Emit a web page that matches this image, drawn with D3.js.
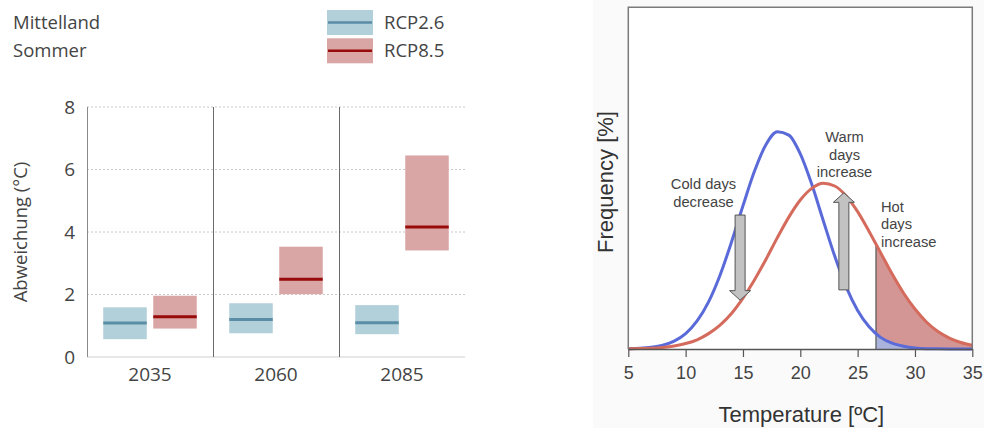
<!DOCTYPE html>
<html>
<head>
<meta charset="utf-8">
<script src="https://cdn.jsdelivr.net/npm/d3@7"></script>
<style>
  body { margin: 0; background: #fff; }
  svg { display: block; }
</style>
</head>
<body>
<script>
// left panel: projected summer warming, Mittelland
const periods = ["2035", "2060", "2085"];
const scenarios = ["RCP2.6", "RCP8.5"];
const rcp26Low = [0.57, 0.76, 0.73];
const rcp26Med = [1.09, 1.20, 1.10];
const rcp26High = [1.59, 1.72, 1.66];
const rcp85Low = [0.91, 2.01, 3.41];
const rcp85Med = [1.29, 2.49, 4.16];
const rcp85High = [1.96, 3.53, 6.45];
const yTicks = [0, 2, 4, 6, 8];

// right panel: temperature distributions
const temps = [5, 6, 7, 8, 9, 10, 11, 12, 13, 14, 15, 16, 17, 18, 19, 20,
               21, 22, 23, 24, 25, 26, 27, 28, 29, 30, 31, 32, 33, 34, 35];
const currentFreq = [0.01, 0.02, 0.05, 0.11, 0.23, 0.45, 0.82, 1.38, 2.16, 3.13, 4.19,
                     5.20, 5.98, 6.36, 6.26, 5.71, 4.82, 3.76, 2.72, 1.82, 1.13,
                     0.65, 0.34, 0.17, 0.08, 0.03, 0.01, 0.005, 0.002, 0.001, 0];
const futureFreq = [0.005, 0.012, 0.024, 0.047, 0.09, 0.16, 0.27, 0.45, 0.70, 1.04, 1.49,
                    2.02, 2.62, 3.26, 3.86, 4.36, 4.70, 4.85, 4.77, 4.48, 4.02,
                    3.44, 2.82, 2.20, 1.64, 1.17, 0.79, 0.51, 0.32, 0.19, 0.11];
const tempTicks = [5, 10, 15, 20, 25, 30, 35];
const hotThreshold = 26.6;
const arrows = [
  {label: ["Cold days", "decrease"], t: 14.75, from: 3.92, to: 1.43},
  {label: ["Warm", "days", "increase"], t: 23.8, from: 1.73, to: 4.57}
];

const W = 984, H = 428;
const svg = d3.select("body").append("svg")
    .attr("width", W)
    .attr("height", H);

// ---------- left chart ----------
const left = svg.append("g")
    .style("font-family", "'Open Sans', sans-serif");

const x = d3.scaleBand()
    .domain(periods)
    .range([87, 465])
    .padding(0);

const xs = d3.scaleBand()
    .domain(scenarios)
    .range([0, x.bandwidth()])
    .paddingInner(0.13)
    .paddingOuter(0.325);

const y = d3.scaleLinear()
    .domain([0, 8])
    .range([357, 107]);

// gridlines
left.append("g").selectAll("line")
    .data(yTicks.filter(d => d > 0))
    .join("line")
    .attr("x1", x.range()[0])
    .attr("x2", x.range()[1])
    .attr("y1", d => y(d))
    .attr("y2", d => y(d))
    .attr("stroke", "#c8c8c8")
    .attr("stroke-dasharray", "2,2");

left.append("line")
    .attr("x1", x.range()[0]).attr("x2", x.range()[1])
    .attr("y1", y(0)).attr("y2", y(0))
    .attr("stroke", "#cfcfcf");

// vertical axis + separators
left.append("g").selectAll("line")
    .data(periods)
    .join("line")
    .attr("x1", d => x(d) + 0.5)
    .attr("x2", d => x(d) + 0.5)
    .attr("y1", y(0))
    .attr("y2", y(8))
    .attr("stroke", d => d === periods[0] ? "#8a8a8a" : "#6a6a6a");

left.append("g").selectAll("text")
    .data(yTicks)
    .join("text")
    .attr("x", 75)
    .attr("y", d => y(d))
    .attr("dy", "0.35em")
    .attr("text-anchor", "end")
    .attr("font-size", 19)
    .attr("fill", "#444")
    .text(d => d);

left.append("g").selectAll("text")
    .data(periods)
    .join("text")
    .attr("x", d => x(d) + x.bandwidth() / 2)
    .attr("y", 381)
    .attr("text-anchor", "middle")
    .attr("font-size", 19)
    .attr("fill", "#444")
    .text(d => d);

left.append("text")
    .attr("transform", "translate(27," + (y(0) + y(8)) / 2 + ") rotate(-90)")
    .attr("text-anchor", "middle")
    .attr("font-size", 18.5)
    .attr("fill", "#444")
    .text("Abweichung (°C)");

const boxColor = {"RCP2.6": "#b2d0da", "RCP8.5": "#d9a5a5"};
const medColor = {"RCP2.6": "#5a8da6", "RCP8.5": "#990a0a"};

const boxes = [];
periods.forEach((p, i) => {
  boxes.push({period: p, sc: "RCP2.6", lo: rcp26Low[i], med: rcp26Med[i], hi: rcp26High[i]});
  boxes.push({period: p, sc: "RCP8.5", lo: rcp85Low[i], med: rcp85Med[i], hi: rcp85High[i]});
});

const bg = left.append("g").selectAll("g")
    .data(boxes)
    .join("g")
    .attr("transform", d => "translate(" + (x(d.period) + xs(d.sc)) + ",0)");

bg.append("rect")
    .attr("x", 0)
    .attr("width", xs.bandwidth())
    .attr("y", d => y(d.hi))
    .attr("height", d => y(d.lo) - y(d.hi))
    .attr("fill", d => boxColor[d.sc]);

bg.append("line")
    .attr("x1", 0)
    .attr("x2", xs.bandwidth())
    .attr("y1", d => y(d.med))
    .attr("y2", d => y(d.med))
    .attr("stroke", d => medColor[d.sc])
    .attr("stroke-width", 3);

// title + legend
left.append("text").attr("x", 13).attr("y", 28.5)
    .attr("font-size", 18.5).attr("fill", "#444").text("Mittelland");
left.append("text").attr("x", 13).attr("y", 57)
    .attr("font-size", 18.5).attr("fill", "#444").text("Sommer");

const lg = left.append("g").selectAll("g")
    .data(scenarios)
    .join("g")
    .attr("transform", (d, i) => "translate(327," + (10 + i * 28.3) + ")");
lg.append("rect")
    .attr("width", 46).attr("height", 25)
    .attr("fill", d => boxColor[d]);
lg.append("line")
    .attr("x1", 1).attr("x2", 45)
    .attr("y1", 12.5).attr("y2", 12.5)
    .attr("stroke", d => medColor[d])
    .attr("stroke-width", 2.5);
lg.append("text")
    .attr("x", 57).attr("y", 18.5)
    .attr("font-size", 18.5).attr("fill", "#444")
    .text(d => d);

// ---------- right chart ----------
svg.append("rect")
    .attr("x", 593).attr("y", 0)
    .attr("width", W - 593).attr("height", H)
    .attr("fill", "#fafafa");

const right = svg.append("g")
    .style("font-family", "'Liberation Sans', Arial, sans-serif");

const tx = d3.scaleLinear()
    .domain([5, 35])
    .range([628.3, 972.3]);

const fy = d3.scaleLinear()
    .domain([0, 10])
    .range([349, 7.3]);

right.append("rect")
    .attr("x", tx(5)).attr("y", fy(10))
    .attr("width", tx(35) - tx(5)).attr("height", fy(0) - fy(10))
    .attr("fill", "#fff");

const curve = d3.curveMonotoneX;
const lineGen = d3.line()
    .x((d, i) => tx(temps[i]))
    .y(d => fy(d))
    .curve(curve);
const areaGen = d3.area()
    .x((d, i) => tx(temps[i]))
    .y0(fy(0))
    .y1(d => fy(d))
    .curve(curve);

const defs = svg.append("defs");
defs.append("clipPath").attr("id", "hotClip")
    .append("rect")
    .attr("x", tx(hotThreshold)).attr("y", fy(10))
    .attr("width", tx(35) - tx(hotThreshold))
    .attr("height", fy(0) - fy(10));
defs.append("clipPath").attr("id", "futureClip")
    .append("path")
    .attr("d", areaGen(futureFreq));

right.append("path")
    .attr("d", areaGen(futureFreq))
    .attr("fill", "#d49595")
    .attr("clip-path", "url(#hotClip)");
right.append("path")
    .attr("d", areaGen(currentFreq))
    .attr("fill", "#a9b3db")
    .attr("clip-path", "url(#hotClip)");

right.append("line")
    .attr("x1", tx(hotThreshold)).attr("x2", tx(hotThreshold))
    .attr("y1", fy(0)).attr("y2", fy(10))
    .attr("stroke", "#555")
    .attr("stroke-width", 1.2)
    .attr("clip-path", "url(#futureClip)");

right.append("path")
    .attr("d", lineGen(currentFreq))
    .attr("fill", "none")
    .attr("stroke", "#5a6ad8")
    .attr("stroke-width", 3);
right.append("path")
    .attr("d", lineGen(futureFreq))
    .attr("fill", "none")
    .attr("stroke", "#d46b5c")
    .attr("stroke-width", 3);

// frame
right.append("path")
    .attr("d", "M" + tx(5) + "," + fy(0) + "V" + fy(10) + "H" + tx(35) + "V" + fy(0))
    .attr("fill", "none")
    .attr("stroke", "#7a7a7a")
    .attr("stroke-width", 1.5);

const xAxis = right.append("g")
    .attr("transform", "translate(0," + fy(0) + ")")
    .call(d3.axisBottom(tx).tickValues(tempTicks).tickSize(8).tickSizeOuter(0));
xAxis.select(".domain").attr("stroke", "#555").attr("stroke-width", 1.5);
xAxis.selectAll(".tick line").attr("stroke", "#555").attr("stroke-width", 1.2);
xAxis.selectAll(".tick text")
    .attr("font-family", "'Liberation Sans', Arial, sans-serif")
    .attr("font-size", 18)
    .attr("fill", "#444")
    .attr("y", 17);

right.append("text")
    .attr("x", (tx(5) + tx(35)) / 2 + 1)
    .attr("y", 422)
    .attr("text-anchor", "middle")
    .attr("font-size", 22)
    .attr("fill", "#333")
    .text("Temperature [ºC]");

right.append("text")
    .attr("transform", "translate(613,182) rotate(-90)")
    .attr("text-anchor", "middle")
    .attr("font-size", 22)
    .attr("fill", "#333")
    .text("Frequency [%]");

// arrows
function arrowPath(a) {
  const cx = tx(a.t), y0 = fy(a.from), y1 = fy(a.to);
  const dir = y1 > y0 ? 1 : -1;
  const sw = 5, hw = 10.5, hl = 9.5;
  const hb = y1 - dir * hl;
  return "M" + (cx - sw) + "," + y0 + "L" + (cx + sw) + "," + y0 +
         "L" + (cx + sw) + "," + hb + "L" + (cx + hw) + "," + hb +
         "L" + cx + "," + y1 + "L" + (cx - hw) + "," + hb +
         "L" + (cx - sw) + "," + hb + "Z";
}

right.append("g").selectAll("path")
    .data(arrows)
    .join("path")
    .attr("d", arrowPath)
    .attr("fill", "#c2c2c2")
    .attr("stroke", "#555")
    .attr("stroke-width", 1);

const noteFont = 14.7;
const notes = [
  {lines: arrows[0].label, x: 703.5, y: 189, anchor: "middle"},
  {lines: arrows[1].label, x: 844.5, y: 142, anchor: "middle"},
  {lines: ["Hot", "days", "increase"], x: 881, y: 211.5, anchor: "start"}
];
notes.forEach(n => {
  right.append("text")
      .attr("x", n.x)
      .attr("y", n.y)
      .attr("text-anchor", n.anchor)
      .attr("font-size", noteFont)
      .attr("fill", "#444")
      .selectAll("tspan")
      .data(n.lines)
      .join("tspan")
      .attr("x", n.x)
      .attr("dy", (d, i) => i === 0 ? 0 : 17.5)
      .text(d => d);
});
</script>
</body>
</html>
